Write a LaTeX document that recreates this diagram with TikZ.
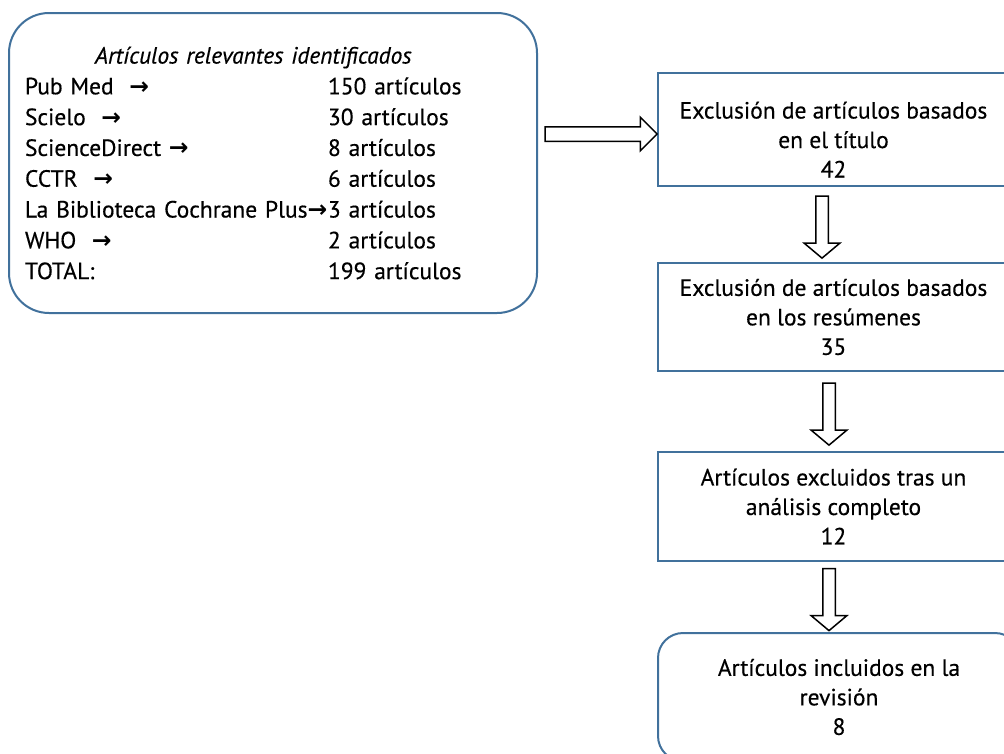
\documentclass[tikz,border=0pt]{standalone}
\usepackage{fontspec}
\setmainfont{PT Sans}[FakeBold=0.4]
\newfontfamily\arrowfont{DejaVu Sans}
\usetikzlibrary{positioning,calc,shapes.arrows}
\definecolor{boxblue}{RGB}{65,113,156}
\newcommand{\arr}{{\arrowfont\bfseries →}}
\newcommand{\src}[1]{\makebox[303pt][l]{#1}}

\begin{document}
\begin{tikzpicture}[
    x=1pt, y=-1pt,
    every node/.style={font=\fontsize{23.5}{29.5}\selectfont},
    box/.style={draw=boxblue, line width=2pt, outer sep=0pt, inner sep=0pt, align=center, minimum width=351pt},
    srcbox/.style={draw=boxblue, line width=2pt, outer sep=0pt, inner sep=0pt, rounded corners=40pt, minimum width=528pt, minimum height=300pt, text width=496pt, align=left, font=\fontsize{23.5}{30.8}\selectfont},
    harrow/.style={draw, line width=1.5pt, fill=white, shape=single arrow, single arrow head extend=9.5pt, single arrow tip angle=90, inner xsep=0pt, inner ysep=6.5pt, minimum height=112pt},
    varrow/.style={draw, line width=1.5pt, fill=white, shape=single arrow, single arrow head extend=11.5pt, single arrow tip angle=100, inner xsep=0pt, inner ysep=5.5pt, minimum height=62pt, rotate=-90}
  ]
  \useasboundingbox[fill=white] (0,0) rectangle (1004,753);

  \node[srcbox] (ident) at (273,163) {%
    \hspace*{70pt}\textit{Artículos relevantes identificados}\\
    \src{Pub Med~~\arr}150 artículos\\
    \src{Scielo~~\arr}30 artículos\\
    \src{ScienceDirect~\arr}8 artículos\\
    \src{CCTR~~\arr}6 artículos\\
    \src{La Biblioteca Cochrane Plus\arr}3 artículos\\
    \src{WHO~~\arr}2 artículos\\
    \src{TOTAL:}199 artículos};

  \node[box, minimum height=113pt] (excl1) at (833.5,129.5) {\rule{0pt}{37pt}Exclusión de artículos basados\\ en el título\\ 42};
  \node[box, minimum height=108pt, below=77pt of excl1] (excl2) {Exclusión de artículos basados\\ en los resúmenes\\ 35};
  \node[box, minimum height=109pt, below=81pt of excl2] (excl3) {Artículos excluidos tras un\\ análisis completo\\ 12};
  \node[box, rounded corners=25pt, minimum width=362pt, minimum height=128pt, below=72pt of excl3, xshift=5.5pt] (incl) {Artículos incluidos en la\\ revisión\\ 8};

  \path ($(ident.east |- excl1.west)+(0,4.5)$) -- node[harrow] {} ($(excl1.west)+(0,4.5)$);
  \path ($(excl1.south)+(-11.5,0)$) -- node[varrow] {} ($(excl2.north)+(-11.5,0)$);
  \path ($(excl2.south)+(-4.5,0)$) -- node[varrow] {} ($(excl3.north)+(-4.5,0)$);
  \path ($(excl3.south)+(-4.5,0)$) -- node[varrow] {} ($(excl3.south |- incl.north)+(-4.5,0)$);
\end{tikzpicture}
\end{document}
